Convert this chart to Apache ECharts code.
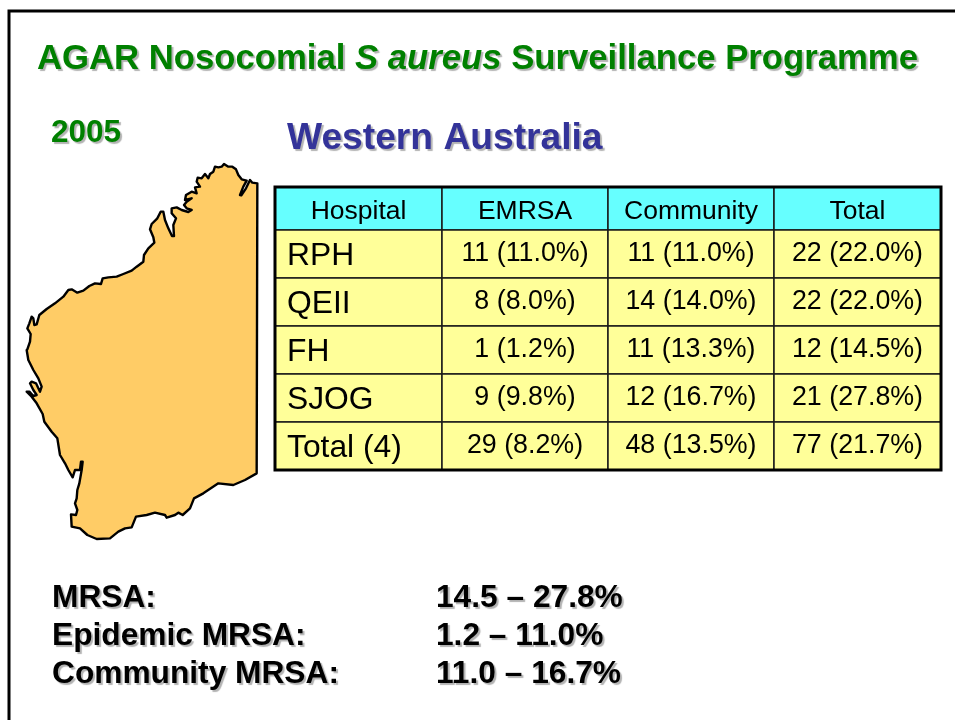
<!DOCTYPE html>
<html><head><meta charset="utf-8">
<style>html,body{margin:0;padding:0;background:#fff}#c{width:955px;height:720px}</style>
<script src="https://cdn.jsdelivr.net/npm/echarts@6/dist/echarts.min.js"></script>
</head><body><div id="c"></div>
<script>
const headers = ['Hospital','EMRSA','Community','Total'];
const hospitals = ['RPH','QEII','FH','SJOG','Total (4)'];
const emrsa = ['11 (11.0%)','8 (8.0%)','1 (1.2%)','9 (9.8%)','29 (8.2%)'];
const community = ['11 (11.0%)','14 (14.0%)','11 (13.3%)','12 (16.7%)','48 (13.5%)'];
const totals = ['22 (22.0%)','22 (22.0%)','12 (14.5%)','21 (27.8%)','77 (21.7%)'];
const summaryLabels = ['MRSA:','Epidemic MRSA:','Community MRSA:'];
const summaryRanges = ['14.5 – 27.8%','1.2 – 11.0%','11.0 – 16.7%'];
const mainTitle = ['AGAR Nosocomial ','S aureus',' Surveillance Programme'];
const yearLabel = '2005';
const regionLabel = 'Western Australia';

// Layout of the table on the page
const colEdges = [275,442,608,774,941];
const rowEdges = [187,230,278,326,374,422,470];
const FONT = '"Liberation Sans", Arial, sans-serif';

// Outline of the state, traced as [x, y] page units
const z1 = [[772,100],[757,98],[750,90],[738,115],[724,136],[720,135],[730,110],[740,92],[725,88],[715,75],[708,58],[697,50],[685,50],[672,42],[665,50],[655,52],[645,50],[640,65],[630,72],[625,85],[615,72],[605,85],[593,83],[590,95],[600,110],[585,112],[590,130],[575,125],[558,135],[555,150],[575,145],[560,155],[552,165],[560,175],[575,180],[565,186],[545,180],[530,172],[515,175],[515,190],[528,205],[520,225],[522,258],[516,258],[505,235],[495,210],[490,185],[482,185],[472,205],[455,222],[450,238],[460,262],[463,278],[445,295],[432,315],[430,335],[410,350],[395,362],[370,372],[350,380],[325,382],[308,385],[303,402],[285,400],[268,408],[250,422],[232,428],[215,418],[205,420],[190,440],[165,460],[140,477],[118,495],[110,523],[103,525],[100,505],[95,500],[88,520],[82,535],[92,552],[90,575],[82,598]];
const z2 = [[80,30],[85,60],[100,90],[115,115],[125,140],[120,155],[108,130],[95,125],[90,130],[100,150],[110,165],[100,168],[88,155],[80,155],[95,170],[110,190],[128,222],[133,245],[155,275],[172,295],[180,345],[195,370],[205,390],[218,412],[225,390],[240,390],[243,365],[248,365],[245,390],[238,430],[232,450],[230,475],[225,490],[232,510],[228,525],[213,523],[215,560],[240,565],[262,585],[290,597],[330,595],[355,575],[375,565],[395,562],[408,530],[440,525],[465,518],[495,525],[500,533],[525,525],[535,518],[548,525],[570,505],[582,475],[610,460],[655,430],[700,435],[735,420],[770,400]];
const outline = z1.map(p=>[p[0]/3,150+p[1]/3]).concat(z2.map(p=>[p[0]/3,340+p[1]/3]));

const cells = [];
headers.forEach((t,c)=>cells.push([c,0,t]));
[hospitals,emrsa,community,totals].forEach((col,c)=>col.forEach((t,r)=>cells.push([c,r+1,t])));

const chart = echarts.init(document.getElementById('c'),null,{renderer:'canvas'});

const shade = {textShadowColor:'rgba(0,0,0,0.3)',textShadowBlur:1,textShadowOffsetX:2,textShadowOffsetY:2};
function shadowText(x,y,text,size,color){
  return {type:'text',x,y,silent:true,style:Object.assign({text,x:0,y:0,fill:color,font:'bold '+size+'px '+FONT,
    verticalAlign:'middle'},shade)};
}
const titleRich = {
  a:Object.assign({fontFamily:'"Liberation Sans", Arial, sans-serif',fontWeight:'bold',fontSize:34.7,color:'#008000'},shade),
  b:Object.assign({fontFamily:'"Liberation Sans", Arial, sans-serif',fontWeight:'bold',fontStyle:'italic',fontSize:34.7,color:'#008000'},shade)
};
chart.setOption({
  animation:false,
  backgroundColor:'#fff',
  grid:{left:0,right:0,top:0,bottom:0},
  xAxis:{type:'value',min:0,max:955,show:false},
  yAxis:{type:'value',min:0,max:720,inverse:true,show:false},
  title:{show:true,left:37,top:42,padding:0,
    text:'{a|'+mainTitle[0]+'}{b|'+mainTitle[1]+'}{a|'+mainTitle[2]+'}',
    textStyle:{rich:titleRich}},
  graphic:[
    {type:'rect',silent:true,shape:{x:9,y:11,width:1000,height:800},style:{fill:'none',stroke:'#000',lineWidth:3},z:-1},
    shadowText(51,133,yearLabel,31.5,'#008000'),
    shadowText(287,139,regionLabel,37.2,'#333399')
  ].concat(summaryLabels.map((t,i)=>shadowText(52,598+38*i,t,31.7,'#000')))
   .concat(summaryRanges.map((t,i)=>shadowText(436,598+38*i,t,31.7,'#000'))),
  series:[
    {type:'custom',coordinateSystem:'cartesian2d',silent:true,clip:false,data:[[0]],
      renderItem(params,api){
        const pts = outline.map(p=>api.coord(p));
        return {type:'polygon',shape:{points:pts},style:{fill:'#FFCC66',stroke:'#000',lineWidth:2.4,lineJoin:'round'}};
      }},
    {type:'custom',coordinateSystem:'cartesian2d',silent:true,clip:false,data:cells,
      encode:{x:0,y:1},
      renderItem(params,api){
        const c=api.value(0), r=api.value(1), t=cells[params.dataIndex][2];
        const p0=api.coord([colEdges[c],rowEdges[r]]), p1=api.coord([colEdges[c+1],rowEdges[r+1]]);
        const first = c===0 && r>0;
        const size = first ? 31.8 : (r===0 ? 26.5 : 26.8);
        const tx = first ? p0[0]+12 : (p0[0]+p1[0])/2;
        const ty = (p0[1]+p1[1])/2 + (first ? 2 : (r===0 ? 3.5 : 0));
        return {type:'group',children:[
          {type:'rect',shape:{x:p0[0],y:p0[1],width:p1[0]-p0[0],height:p1[1]-p0[1]},
            style:{fill:r===0?'#66FFFF':'#FFFF99',stroke:'#1a1a1a',lineWidth:1.5}},
          {type:'text',style:{text:t,x:tx,y:ty,fill:'#000',font:size+'px '+FONT,
            textAlign:first?'left':'center',textVerticalAlign:'middle'},z2:5}
        ]};
      }},
    {type:'custom',coordinateSystem:'cartesian2d',silent:true,clip:false,z:5,data:[[0]],
      renderItem(params,api){
        const a=api.coord([colEdges[0],rowEdges[0]]), b=api.coord([colEdges[4],rowEdges[6]]);
        return {type:'rect',shape:{x:a[0],y:a[1],width:b[0]-a[0],height:b[1]-a[1]},style:{fill:'none',stroke:'#000',lineWidth:3}};
      }}
  ]
});
</script></body></html>
